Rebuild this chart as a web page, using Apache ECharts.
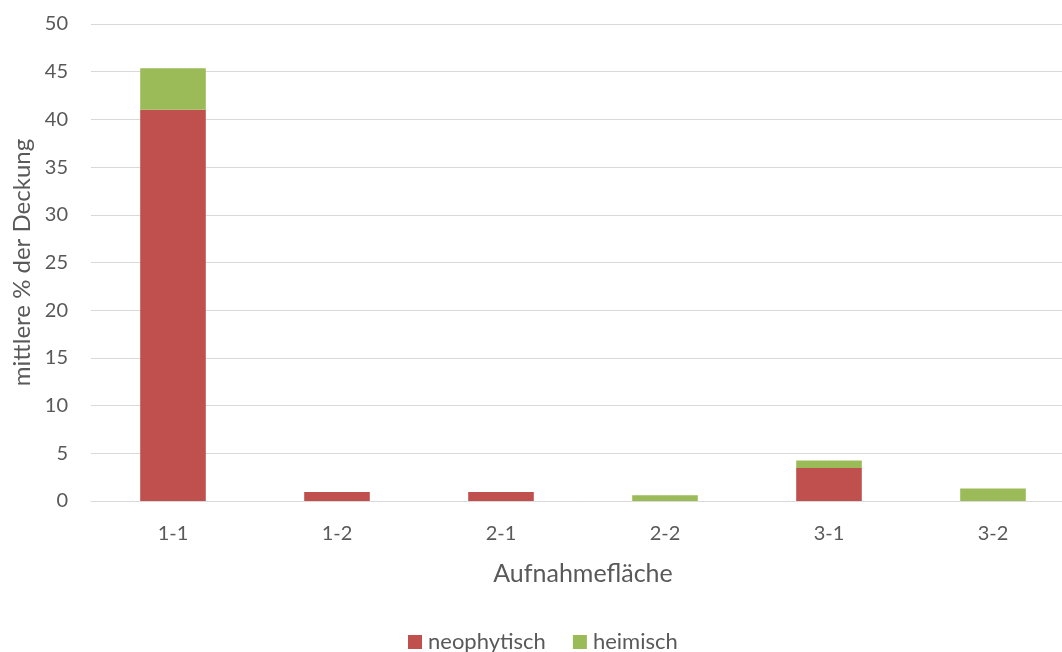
<!DOCTYPE html>
<html>
<head>
<meta charset="utf-8">
<script src="https://cdn.jsdelivr.net/npm/echarts@6/dist/echarts.min.js"></script>
<style>
  html, body { margin: 0; padding: 0; background: #fff; }
  #chart { width: 1062px; height: 652px; }
</style>
</head>
<body>
<div id="chart"></div>
<script>
// Sampling plots and mean cover (%) per species group
const categories = ['1-1', '1-2', '2-1', '2-2', '3-1', '3-2'];
const neophytisch = [41.0, 0.95, 0.95, 0, 3.45, 0];
const heimisch = [4.35, 0, 0, 0.6, 0.8, 1.3];
const yTicks = { min: 0, max: 50, interval: 5 };

const FONT = 'Lato, "Open Sans", sans-serif';
const TEXT = '#595959';

const chart = echarts.init(document.getElementById('chart'), null, { renderer: 'canvas' });

chart.setOption({
  animation: false,
  textStyle: { fontFamily: FONT },
  // plot area runs slightly past the right edge of the canvas
  grid: { left: 91, top: 24, width: 984, height: 477, outerBoundsMode: 'none' },
  legend: {
    top: 631,
    left: 408,
    padding: 0,
    itemWidth: 14,
    itemHeight: 14,
    itemGap: 27,
    icon: 'rect',
    textStyle: { color: TEXT, fontSize: 22, fontFamily: FONT, padding: [0, 0, 0, 1] },
    data: ['neophytisch', 'heimisch']
  },
  xAxis: {
    type: 'category',
    data: categories,
    name: 'Aufnahmefläche',
    nameLocation: 'middle',
    nameGap: 60,
    nameTextStyle: { color: TEXT, fontSize: 25, fontFamily: FONT },
    axisLine: { show: true, lineStyle: { color: '#D9D9D9', width: 1 } },
    axisTick: { show: false },
    axisLabel: { color: TEXT, fontSize: 20, margin: 23, fontFamily: FONT }
  },
  yAxis: {
    type: 'value',
    min: yTicks.min,
    max: yTicks.max,
    interval: yTicks.interval,
    name: 'mittlere % der Deckung',
    nameLocation: 'middle',
    nameGap: 54,
    nameRotate: 90,
    nameTextStyle: { color: TEXT, fontSize: 24, fontFamily: FONT },
    axisLine: { show: false },
    axisTick: { show: false },
    axisLabel: { color: TEXT, fontSize: 20, margin: 23, fontFamily: FONT },
    splitLine: { lineStyle: { color: '#D9D9D9', width: 1 } }
  },
  series: [
    {
      name: 'neophytisch',
      type: 'bar',
      stack: 'total',
      barWidth: '40%',
      data: neophytisch,
      itemStyle: { color: '#C0504D' }
    },
    {
      name: 'heimisch',
      type: 'bar',
      stack: 'total',
      barWidth: '40%',
      data: heimisch,
      itemStyle: { color: '#9BBB59' }
    }
  ]
});
</script>
</body>
</html>
